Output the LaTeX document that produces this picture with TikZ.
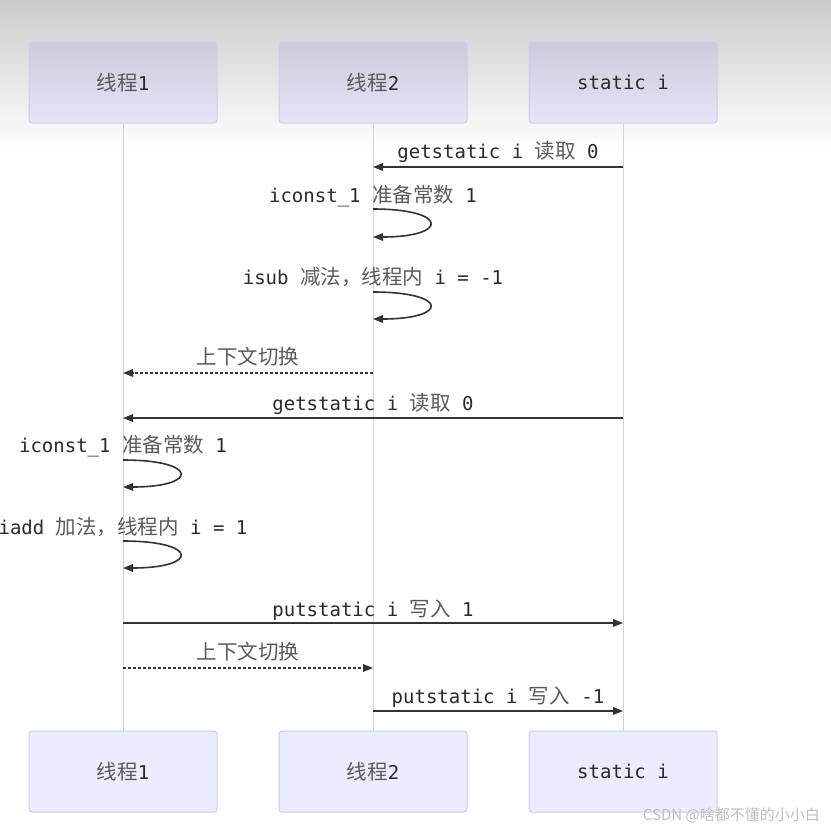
\documentclass[tikz,border=0pt]{standalone}
\usepackage{fontspec}
\setmonofont{DejaVu Sans Mono}
\newfontfamily\cjk{Noto Sans CJK SC}
\usetikzlibrary{arrows.meta}
\definecolor{txt}{HTML}{2A2A2A}
\definecolor{txtzh}{HTML}{5A5A5A}
\definecolor{linec}{HTML}{333333}
\definecolor{lifec}{HTML}{D3D3D3}
\definecolor{boxfill}{HTML}{ECECFF}
\definecolor{boxdraw}{HTML}{CCCCF0}
\newcommand\zh[1]{{\cjk\fontsize{20.5}{24}\selectfont\color{txtzh}#1}}
\tikzset{
  base/.style={font=\ttfamily\fontsize{19}{23}\selectfont, text=txt},
  actor/.style={base, draw=boxdraw, line width=1pt, rounded corners=3pt,
    minimum width=188pt, minimum height=81pt, inner sep=0pt},
  actortop/.style={actor, top color={rgb,255:red,203;green,203;blue,219},
    bottom color={rgb,255:red,229;green,229;blue,247}},
  actorbot/.style={actor, fill=boxfill},
  life/.style={draw=lifec, line width=1pt},
  msgline/.style={draw=linec, line width=1.6pt,
    -{Triangle[length=10pt,width=7.5pt]}},
  dashline/.style={msgline, dash pattern=on 3pt off 2pt},
  lbl/.style={base, anchor=base, inner sep=0pt},
}
\begin{document}
\begin{tikzpicture}[x=1pt,y=-1pt]
\useasboundingbox (0,0) rectangle (831,828);
\fill[white] (0,0) rectangle (831,828);
\shade[top color={rgb,255:red,203;green,203;blue,203}, bottom color=white] (0,0) rectangle (831,150);

% actors
\node[actortop] (t1) at (123,82.5) {\zh{线程}1};
\node[actortop] (t2) at (373,82.5) {\zh{线程}2};
\node[actortop] (t3) at (623,82.5) {static i};
\node[actorbot] (b1) at (123,771.5) {\zh{线程}1};
\node[actorbot] (b2) at (373,771.5) {\zh{线程}2};
\node[actorbot] (b3) at (623,771.5) {static i};

% lifelines
\draw[life] (t1) -- (b1);
\draw[life] (t2) -- (b2);
\draw[life] (t3) -- (b3);

% message anchor points
\coordinate (m1a) at (623,167);  \coordinate (m1b) at (373,167);
\coordinate (m2a) at (373,209);  \coordinate (m2b) at (373,237);
\coordinate (m3a) at (373,292);  \coordinate (m3b) at (373,319);
\coordinate (m4a) at (373,373);  \coordinate (m4b) at (123,373);
\coordinate (m5a) at (623,418);  \coordinate (m5b) at (123,418);
\coordinate (m6a) at (123,460);  \coordinate (m6b) at (123,487);
\coordinate (m7a) at (123,541);  \coordinate (m7b) at (123,568);
\coordinate (m8a) at (123,623);  \coordinate (m8b) at (623,623);
\coordinate (m9a) at (123,668);  \coordinate (m9b) at (373,668);
\coordinate (m10a) at (373,711); \coordinate (m10b) at (623,711);

% messages
\draw[msgline] (m1a) -- (m1b);
\node[lbl] (l1) at (498,158) {getstatic i \zh{读取} 0};

\draw[msgline] (m2a) .. controls +(76,0) and +(76,0) .. (m2b);
\node[lbl] (l2) at (373,202) {iconst\_1 \zh{准备常数} 1};

\draw[msgline] (m3a) .. controls +(76,0) and +(76,0) .. (m3b);
\node[lbl] (l3) at (373,284) {isub \zh{减法，线程内} i = -1};

\draw[dashline] (m4a) -- (m4b);
\node[lbl] (l4) at (248,364) {\zh{上下文切换}};

\draw[msgline] (m5a) -- (m5b);
\node[lbl] (l5) at (373,410) {getstatic i \zh{读取} 0};

\draw[msgline] (m6a) .. controls +(76,0) and +(76,0) .. (m6b);
\node[lbl] (l6) at (123,452) {iconst\_1 \zh{准备常数} 1};

\draw[msgline] (m7a) .. controls +(76,0) and +(76,0) .. (m7b);
\node[lbl] (l7) at (123,534) {iadd \zh{加法，线程内} i = 1};

\draw[msgline] (m8a) -- (m8b);
\node[lbl] (l8) at (373,616) {putstatic i \zh{写入} 1};

\draw[dashline] (m9a) -- (m9b);
\node[lbl] (l9) at (248,659) {\zh{上下文切换}};

\draw[msgline] (m10a) -- (m10b);
\node[lbl] (l10) at (498,703) {putstatic i \zh{写入} -1};

% watermark
\node[anchor=base east, inner sep=0pt, text={rgb,255:red,190;green,190;blue,190},
  font=\cjk\fontsize{15}{18}\selectfont] (wm) at (820,820) {CSDN @啥都不懂的小小白};
\end{tikzpicture}
\end{document}
